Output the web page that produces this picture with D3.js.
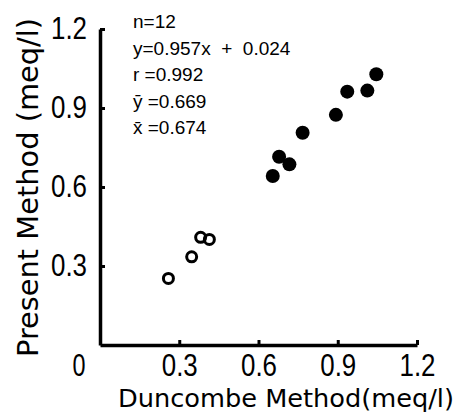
<!DOCTYPE html>
<html>
<head>
<meta charset="utf-8">
<script src="https://cdn.jsdelivr.net/npm/d3@7"></script>
<style>
  body { margin: 0; background: #fff; }
  svg { display: block; }
  .tick text { font-family: "Liberation Sans", Arial, sans-serif; font-size: 31px; fill: #000; }
  .note { font-family: "Liberation Sans", Arial, sans-serif; font-size: 19px; white-space: pre; }
  .title { font-family: "DejaVu Sans", sans-serif; }
</style>
</head>
<body>
<svg id="chart" width="464" height="416"></svg>
<script>
// open circles (low group)
var openX = [0.259, 0.347, 0.381, 0.414];
var openY = [0.253, 0.335, 0.409, 0.401];
// filled circles (high group)
var fillX = [0.654, 0.678, 0.717, 0.767, 0.893, 0.936, 1.012, 1.046];
var fillY = [0.642, 0.715, 0.686, 0.806, 0.874, 0.962, 0.966, 1.028];
var tickVals = [0.3, 0.6, 0.9, 1.2];
var notes = ["n=12", "y=0.957x  +  0.024", "r =0.992", "\u0233 =0.669", "x\u0304 =0.674"];

var svg = d3.select("#chart");

var x = d3.scaleLinear().domain([0, 1.2]).range([100, 417]);
var y = d3.scaleLinear().domain([0, 1.2]).range([345, 29]);

var xAxis = d3.axisBottom(x)
    .tickValues(tickVals)
    .tickSizeInner(-5)
    .tickSizeOuter(0)
    .tickPadding(9)
    .tickFormat(d3.format(".1f"));

var yAxis = d3.axisLeft(y)
    .tickValues(tickVals)
    .tickSizeInner(-5)
    .tickSizeOuter(0)
    .tickPadding(13)
    .tickFormat(d3.format(".1f"));

var gx = svg.append("g")
    .attr("transform", "translate(0,345)")
    .call(xAxis);
var gy = svg.append("g")
    .attr("transform", "translate(100,0)")
    .call(yAxis);

[gx, gy].forEach(function(g) {
    g.select(".domain").attr("stroke", "#000").attr("stroke-width", 3.5);
    g.selectAll(".tick line").attr("stroke", "#000").attr("stroke-width", 3);
    g.attr("font-family", null).attr("font-size", null);
    // narrow, tall digits like the original lettering
    g.selectAll(".tick text")
        .attr("textLength", 36)
        .attr("lengthAdjust", "spacingAndGlyphs");
});

// shared zero at the corner
svg.append("text")
    .attr("x", x(0) - 21)
    .attr("y", y(0) + 9)
    .attr("dy", "0.71em")
    .attr("text-anchor", "middle")
    .attr("font-family", "Liberation Sans, Arial, sans-serif")
    .attr("font-size", 31)
    .attr("textLength", 13)
    .attr("lengthAdjust", "spacingAndGlyphs")
    .text("0");

// points
svg.selectAll(".open")
    .data(openX)
    .enter().append("circle")
    .attr("class", "open")
    .attr("cx", function(d) { return x(d); })
    .attr("cy", function(d, i) { return y(openY[i]); })
    .attr("r", 5)
    .attr("fill", "none")
    .attr("stroke", "#000")
    .attr("stroke-width", 3);

svg.selectAll(".filled")
    .data(fillX)
    .enter().append("circle")
    .attr("class", "filled")
    .attr("cx", function(d) { return x(d); })
    .attr("cy", function(d, i) { return y(fillY[i]); })
    .attr("r", 7)
    .attr("fill", "#000");

// regression notes
svg.selectAll(".note")
    .data(notes)
    .enter().append("text")
    .attr("class", "note")
    .attr("x", 133)
    .attr("y", function(d, i) { return 28 + i * 26.5; })
    .text(function(d) { return d; });

// axis titles
svg.append("text")
    .attr("class", "title")
    .attr("x", 118)
    .attr("y", 407)
    .attr("font-size", 25)
    .attr("textLength", 336)
    .attr("lengthAdjust", "spacingAndGlyphs")
    .text("Duncombe Method(meq/l)");

svg.append("text")
    .attr("class", "title")
    .attr("transform", "translate(38,357) rotate(-90)")
    .attr("font-size", 29)
    .attr("textLength", 339)
    .attr("lengthAdjust", "spacingAndGlyphs")
    .text("Present Method (meq/l)");
</script>
</body>
</html>
